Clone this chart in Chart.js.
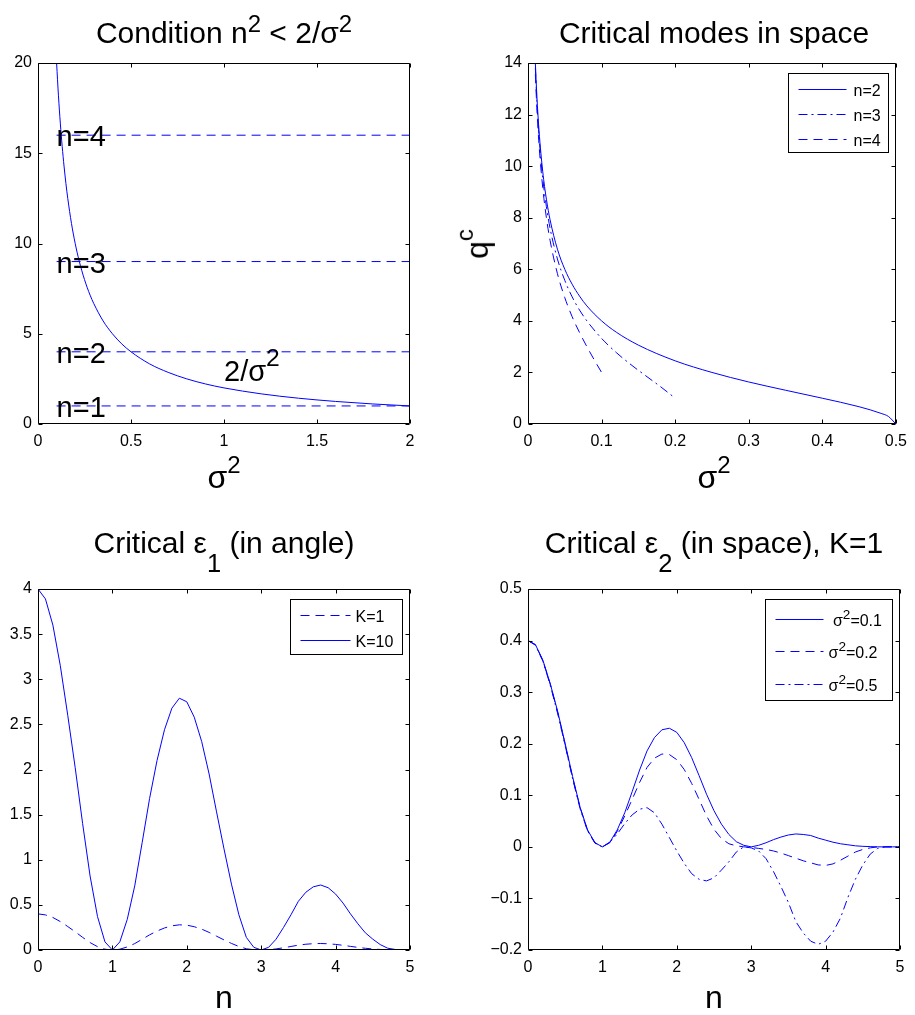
<!DOCTYPE html>
<html><head><meta charset="utf-8"><title>Critical modes</title>
<script src="https://cdn.jsdelivr.net/npm/chart.js@4.4.1/dist/chart.umd.min.js"></script>
<style>
html,body{margin:0;padding:0;background:#fff;}
#fig{position:relative;width:915px;height:1015px;overflow:hidden;background:#fff;font-family:"Liberation Sans",Arial,Helvetica,sans-serif;color:#000;}
#fig canvas{position:absolute;}
.lbl{position:absolute;left:0;top:0;white-space:nowrap;line-height:1;}
.bl{display:inline-block;width:0;height:0;vertical-align:baseline;}
</style></head><body>
<div id="fig">
<canvas id="c1" width="457" height="507" style="left:0px;top:0px"></canvas>
<canvas id="c2" width="458" height="507" style="left:457px;top:0px"></canvas>
<canvas id="c3" width="457" height="508" style="left:0px;top:507px"></canvas>
<canvas id="c4" width="458" height="508" style="left:457px;top:507px"></canvas>
</div>
<script>
// ================= DATA =================
// Panel 1: Condition n^2 < 2/sigma^2
const p1Sigma2 = [0.1,0.11,0.12,0.13,0.14,0.15,0.16,0.18,0.2,0.22,0.25,0.28,0.3,0.35,0.4,0.45,0.5,0.6,0.7,0.8,0.9,1.0,1.2,1.4,1.6,1.8,2.0];
const p1Curve  = [20,18.18,16.67,15.38,14.29,13.33,12.5,11.11,10,9.09,8,7.14,6.67,5.71,5,4.44,4,3.33,2.86,2.5,2.22,2,1.67,1.43,1.25,1.11,1];
const p1Levels = [1,4,9,16];
const p1LevelLabels = ['n=1','n=2','n=3','n=4'];
const p1LevelRange = [0.1, 2];
const p1CurveLabel = '2/σ^2';
const p1XTicks = [0,0.5,1,1.5,2];
const p1XTickLabels = ['0','0.5','1','1.5','2'];
const p1YTicks = [0,5,10,15,20];
const p1YTickLabels = ['0','5','10','15','20'];

// Panel 2: Critical modes in space
const p2SigmaN2 = [0.01,0.012,0.015,0.02,0.025,0.03,0.04,0.05,0.06,0.07,0.08,0.1,0.12,0.15,0.2,0.25,0.3,0.35,0.4,0.45,0.48,0.49,0.5];
const p2QN2     = [14.0,12.75,11.37,9.80,8.72,7.92,6.78,6.00,5.42,4.96,4.58,4.00,3.56,3.06,2.45,2.00,1.63,1.31,1.00,0.67,0.41,0.29,0.00];
const p2SigmaN3 = [0.01,0.012,0.015,0.02,0.025,0.03,0.04,0.05,0.06,0.07,0.08,0.1,0.12,0.14,0.16,0.18,0.2];
const p2QN3     = [13.82,12.56,11.15,9.54,8.43,7.59,6.40,5.57,4.93,4.42,4.00,3.32,2.77,2.30,1.87,1.45,1.00];
const p2SigmaN4 = [0.01,0.012,0.015,0.02,0.025,0.03,0.04,0.05,0.06,0.07,0.08,0.09,0.1];
const p2QN4     = [13.56,12.27,10.83,9.17,8.00,7.12,5.83,4.90,4.16,3.55,3.00,2.49,2.00];
const p2Names = ['n=2','n=3','n=4'];
const p2XTicks = [0,0.1,0.2,0.3,0.4,0.5];
const p2XTickLabels = ['0','0.1','0.2','0.3','0.4','0.5'];
const p2YTicks = [0,2,4,6,8,10,12,14];
const p2YTickLabels = ['0','2','4','6','8','10','12','14'];

// Panels 3 and 4 share n
const nValues = [0,0.1,0.2,0.3,0.4,0.5,0.6,0.7,0.8,0.9,1,1.1,1.2,1.3,1.4,1.5,1.6,1.7,1.8,1.9,2,2.1,2.2,2.3,2.4,2.5,2.6,2.7,2.8,2.9,3,3.1,3.2,3.3,3.4,3.5,3.6,3.7,3.8,3.9,4,4.1,4.2,4.3,4.4,4.5,4.6,4.7,4.8,4.9,5];
const nTicks = [0,1,2,3,4,5];
const nTickLabels = ['0','1','2','3','4','5'];

// Panel 3: Critical eps1 (in angle)
const p3K1  = [0.400,0.389,0.360,0.315,0.260,0.202,0.140,0.082,0.037,0.009,0.000,0.009,0.034,0.071,0.119,0.168,0.210,0.244,0.268,0.279,0.275,0.258,0.231,0.195,0.153,0.112,0.073,0.039,0.014,0.003,0.000,0.003,0.012,0.025,0.039,0.054,0.064,0.070,0.072,0.069,0.062,0.052,0.040,0.029,0.019,0.012,0.006,0.002,0.001,0.000,0.000];
const p3K10 = [4.00,3.89,3.60,3.15,2.60,2.02,1.40,0.82,0.37,0.09,0.00,0.09,0.34,0.71,1.19,1.68,2.10,2.44,2.68,2.79,2.75,2.58,2.31,1.95,1.53,1.12,0.73,0.39,0.14,0.03,0.00,0.03,0.12,0.25,0.39,0.54,0.64,0.70,0.72,0.69,0.62,0.52,0.40,0.29,0.19,0.12,0.06,0.02,0.006,0.001,0.00];
const p3Names = ['K=1','K=10'];
const p3YTicks = [0,0.5,1,1.5,2,2.5,3,3.5,4];
const p3YTickLabels = ['0','0.5','1','1.5','2','2.5','3','3.5','4'];

// Panel 4: Critical eps2 (in space), K=1
const p4S01 = [0.400,0.392,0.362,0.316,0.262,0.200,0.136,0.077,0.033,0.008,0.000,0.009,0.033,0.066,0.107,0.149,0.186,0.212,0.227,0.230,0.222,0.202,0.173,0.138,0.102,0.070,0.044,0.024,0.010,0.003,0.000,0.003,0.008,0.014,0.019,0.023,0.025,0.024,0.022,0.017,0.013,0.009,0.006,0.004,0.002,0.001,0.0005,0,0,0,0];
const p4S02 = [0.400,0.392,0.361,0.315,0.260,0.198,0.134,0.076,0.032,0.008,0.000,0.008,0.030,0.060,0.092,0.125,0.154,0.172,0.180,0.179,0.169,0.150,0.123,0.092,0.060,0.034,0.016,0.006,0.002,0.000,-0.001,-0.003,-0.005,-0.008,-0.012,-0.017,-0.022,-0.027,-0.031,-0.035,-0.036,-0.033,-0.026,-0.018,-0.010,-0.005,-0.002,0,0,0,0];
const p4S05 = [0.400,0.391,0.360,0.313,0.258,0.196,0.132,0.074,0.031,0.007,0.000,0.009,0.025,0.045,0.062,0.073,0.076,0.066,0.044,0.018,-0.008,-0.032,-0.052,-0.063,-0.066,-0.060,-0.045,-0.029,-0.010,0.000,-0.002,-0.008,-0.023,-0.048,-0.077,-0.108,-0.145,-0.167,-0.183,-0.189,-0.183,-0.165,-0.138,-0.098,-0.063,-0.035,-0.014,-0.003,0,0,0];
const p4Names = [' σ^2=0.1','σ^2=0.2','σ^2=0.5'];
const p4YTicks = [-0.2,-0.1,0,0.1,0.2,0.3,0.4,0.5];
const p4YTickLabels = ['\u22120.2','\u22120.1','0','0.1','0.2','0.3','0.4','0.5'];

// Titles / axis labels (^x = superscript, _x = subscript)
const titles = ['Condition n^2 < 2/σ^2','Critical modes in space','Critical ε_1 (in angle)','Critical ε_2 (in space), K=1'];
const xLabels = ['σ^2','σ^2','n','n'];
const yLabel2 = 'q^c';

// ================= STYLE / HELPERS =================
const FAM = '"Liberation Sans", Arial, Helvetica, sans-serif';
Chart.defaults.font.family = FAM;
Chart.defaults.font.size = 16;
Chart.defaults.color = '#000';
Chart.defaults.animation = false;
const BLUE = 'rgb(0,0,255)';
const SOLID = [];
const DASH = [9,6];
const DASHDOT = [9,4,2,4];

const pts = (xs, ys) => xs.map((x,i)=>({x:x, y:ys[i]}));

function parseRich(s){
  const parts=[]; let buf='';
  for(let i=0;i<s.length;i++){
    const c=s[i];
    if((c==='^'||c==='_') && i+1<s.length){
      if(buf){parts.push({t:buf});buf='';}
      parts.push({t:s[i+1], sup:c==='^', sub:c==='_'}); i++;
    } else buf+=c;
  }
  if(buf) parts.push({t:buf});
  return parts;
}
function drawRich(ctx, s, x, y, size, o){
  const parts=parseRich(s); const sc=o.scale||0.8;
  const ws=parts.map(p=>{ctx.font=((p.sup||p.sub)?size*sc:size)+'px '+FAM; return ctx.measureText(p.t).width;});
  const w=ws.reduce((a,b)=>a+b,0);
  let cx = o.align==='center' ? x-w/2 : x;
  ctx.textAlign='left'; ctx.textBaseline=o.baseline||'alphabetic';
  parts.forEach((p,i)=>{
    ctx.font=((p.sup||p.sub)?size*sc:size)+'px '+FAM;
    const dy = p.sup ? -size*(o.raise||0.4) : (p.sub ? size*(o.drop||0.3) : 0);
    ctx.fillText(p.t, cx, y+dy); cx+=ws[i];
  });
}

function axis(min,max,vals,labels,isX,size){
  return {
    type:'linear', min:min, max:max,
    grid:{display:false, drawTicks:false},
    border:{display:false},
    ticks:{autoSkip:false, maxRotation:0, minRotation:0, padding:isX?8:6, color:'#000', font:{size:16, family:FAM},
      callback:(v,i)=>labels[i]},
    afterBuildTicks:s=>{ s.ticks = vals.map(v=>({value:v})); },
    afterFit:s=>{ if(isX) s.height=size; else s.width=size; }
  };
}
function ds(xs, ys, dash, mono){
  return {data:pts(xs,ys), borderColor:BLUE, borderWidth:1, borderDash:dash, pointRadius:0,
    fill:false, tension: mono?0.4:0, cubicInterpolationMode: mono?'monotone':'default'};
}

const boxPlugin = {
  id:'mbox',
  afterDatasetsDraw(chart){
    const {ctx, chartArea:a} = chart; const x=chart.scales.x, y=chart.scales.y;
    ctx.save(); ctx.strokeStyle='#000'; ctx.lineWidth=1; ctx.setLineDash([]);
    const L=Math.round(a.left)+0.5, R=Math.round(a.right)-0.5, T=Math.round(a.top)+0.5, B=Math.round(a.bottom)-0.5;
    ctx.beginPath(); ctx.rect(L,T,R-L,B-T);
    const len=4;
    x.ticks.forEach(t=>{const px=Math.round(x.getPixelForValue(t.value))+0.5; ctx.moveTo(px,B); ctx.lineTo(px,B-len); ctx.moveTo(px,T); ctx.lineTo(px,T+len);});
    y.ticks.forEach(t=>{const py=Math.round(y.getPixelForValue(t.value))+0.5; ctx.moveTo(L,py); ctx.lineTo(L+len,py); ctx.moveTo(R,py); ctx.lineTo(R-len,py);});
    ctx.stroke(); ctx.restore();
  }
};
const notePlugin = {
  id:'mnotes',
  afterDatasetsDraw(chart, args, o){
    if(!o || !o.items) return;
    const {ctx} = chart; const x=chart.scales.x, y=chart.scales.y;
    ctx.save(); ctx.fillStyle='#000';
    o.items.forEach(it=>{
      drawRich(ctx, it.text, x.getPixelForValue(it.x), y.getPixelForValue(it.y)+o.dy, o.size, {align:'left', scale:0.85, raise:0.5});
    });
    ctx.restore();
  }
};
const legendPlugin = {
  id:'mlegend',
  afterDraw(chart, args, o){
    if(!o || !o.items) return;
    const {ctx, chartArea:a} = chart;
    const bx=Math.round(a.right-o.inset-o.w)+0.5, by=Math.round(a.top+o.top)+0.5;
    ctx.save();
    ctx.fillStyle='#fff'; ctx.fillRect(bx,by,o.w,o.h);
    ctx.strokeStyle='#000'; ctx.lineWidth=1; ctx.setLineDash([]); ctx.strokeRect(bx,by,o.w,o.h);
    o.items.forEach((it,i)=>{
      const d=chart.data.datasets[it.ds];
      const yy=Math.round(by+o.row0+i*o.rowH)+0.5;
      ctx.strokeStyle=d.borderColor; ctx.lineWidth=1; ctx.setLineDash(d.borderDash||[]);
      ctx.beginPath(); ctx.moveTo(bx+o.l0,yy); ctx.lineTo(bx+o.l1,yy); ctx.stroke();
      ctx.setLineDash([]); ctx.fillStyle='#000';
      drawRich(ctx, it.label, bx+o.tx, yy+6, 16, {align:'left', scale:0.85, raise:0.42});
    });
    ctx.restore();
  }
};
const PLUGINS=[boxPlugin, notePlugin, legendPlugin];

function make(id, datasets, xs, ys, pad, plugOpts){
  return new Chart(document.getElementById(id), {
    type:'line',
    data:{datasets:datasets},
    options:{responsive:false, animation:false, events:[],
      layout:{padding:pad},
      scales:{x:xs, y:ys},
      plugins:Object.assign({legend:{display:false}, tooltip:{enabled:false}, title:{display:false}}, plugOpts||{})
    },
    plugins:PLUGINS
  });
}

// ================= CHARTS =================
make('c1',
  [ds(p1Sigma2,p1Curve,SOLID,true)].concat(p1Levels.map(v=>ds(p1LevelRange,[v,v],DASH,false))),
  axis(0,2,p1XTicks,p1XTickLabels,true,30),
  axis(0,20,p1YTicks,p1YTickLabels,false,38),
  {left:0,top:63,right:47,bottom:53},
  {mnotes:{size:29, dy:11, items:p1Levels.map((v,i)=>({text:p1LevelLabels[i], x:p1LevelRange[0], y:v})).concat([{text:p1CurveLabel, x:1.0, y:3.0}])}}
);
make('c2',
  [ds(p2SigmaN2,p2QN2,SOLID,true), ds(p2SigmaN3,p2QN3,DASHDOT,true), ds(p2SigmaN4,p2QN4,DASH,true)],
  axis(0,0.5,p2XTicks,p2XTickLabels,true,30),
  axis(0,14,p2YTicks,p2YTickLabels,false,71),
  {left:0,top:63,right:15,bottom:53},
  {mlegend:{inset:8, top:10, w:100, h:79, row0:15.5, rowH:25, l0:10, l1:58, tx:65,
    items:p2Names.map((n,i)=>({label:n, ds:i}))}}
);
make('c3',
  [ds(nValues,p3K1,DASH,false), ds(nValues,p3K10,SOLID,false)],
  axis(0,5,nTicks,nTickLabels,true,30),
  axis(0,4,p3YTicks,p3YTickLabels,false,38),
  {left:0,top:82,right:47,bottom:35},
  {mlegend:{inset:8, top:10, w:112, h:55, row0:15, rowH:25, l0:10, l1:60, tx:65,
    items:p3Names.map((n,i)=>({label:n, ds:i}))}}
);
make('c4',
  [ds(nValues,p4S01,SOLID,false), ds(nValues,p4S02,DASH,false), ds(nValues,p4S05,DASHDOT,false)],
  axis(0,5,nTicks,nTickLabels,true,30),
  axis(-0.2,0.5,p4YTicks,p4YTickLabels,false,71),
  {left:0,top:82,right:15,bottom:35},
  {mlegend:{inset:8, top:10, w:127, h:101, row0:19, rowH:32.5, l0:10, l1:58, tx:63,
    items:p4Names.map((n,i)=>({label:n, ds:i}))}}
);

// ================= HTML TEXT (titles, axis labels) =================
const fig=document.getElementById('fig');
function richHTML(s, supSize, supTop, subSize, subTop){
  return parseRich(s).map(p=>{
    const t=p.t.replace(/&/g,'&amp;').replace(/</g,'&lt;').replace(/>/g,'&gt;');
    if(p.sup) return '<span style="font-size:'+supSize+'em;position:relative;top:'+supTop+'em">'+t+'</span>';
    if(p.sub) return '<span style="font-size:'+subSize+'em;position:relative;top:'+subTop+'em">'+t+'</span>';
    return t;
  }).join('');
}
function place(s, cx, baseY, size, o){
  const d=document.createElement('div'); d.className='lbl';
  d.style.fontSize=size+'px';
  d.innerHTML=richHTML(s,o.supSize,o.supTop,o.subSize||0.85,o.subTop||0.75)+'<span class="bl"></span>';
  fig.appendChild(d);
  const rD=d.getBoundingClientRect(), rB=d.querySelector('.bl').getBoundingClientRect();
  const off=rB.top-rD.top, w=rD.width;
  d.style.left=(cx-w/2)+'px'; d.style.top=(baseY-off)+'px';
  if(o.rotate){ d.style.transformOrigin=(w/2)+'px '+off+'px'; d.style.transform='rotate(-90deg)'; }
}
const TT={supSize:0.8, supTop:-0.42};
place(titles[0], 224, 42.5, 30, TT);
place(titles[1], 714, 42.5, 30, TT);
place(titles[2], 224, 553, 30, TT);
place(titles[3], 714, 553, 30, TT);
const AX={supSize:0.75, supTop:-0.62};
place(xLabels[0], 224, 488, 32, AX);
place(xLabels[1], 714, 488, 32, AX);
place(xLabels[2], 224, 1008, 32, AX);
place(xLabels[3], 714, 1008, 32, AX);
place(yLabel2, 488, 243.5, 32, {supSize:0.75, supTop:-0.62, rotate:true});
</script>
</body></html>
